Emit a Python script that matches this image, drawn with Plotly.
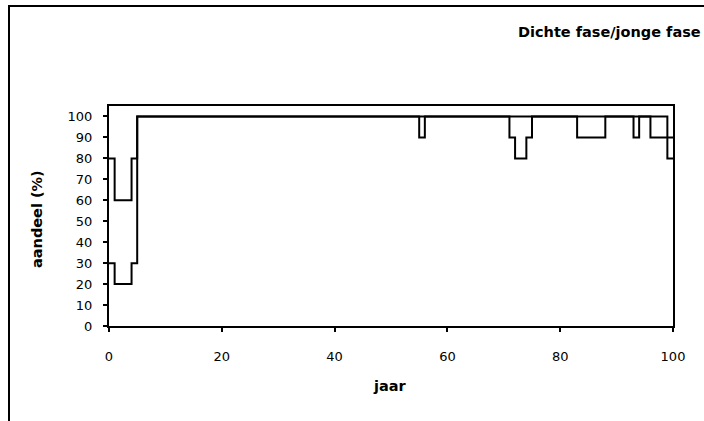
import plotly.graph_objects as go

# Data: step breakpoints (year, share %)
years_a = [0, 1, 4, 5, 55, 56, 71, 72, 74, 75, 83, 88, 93, 94, 96, 100]
share_a = [30, 20, 30, 100, 90, 100, 90, 80, 90, 100, 90, 100, 90, 100, 90, 90]
years_b = [0, 1, 4, 5, 99, 100]
share_b = [80, 60, 80, 100, 80, 80]

x_ticks = [0, 20, 40, 60, 80, 100]
y_ticks = [0, 10, 20, 30, 40, 50, 60, 70, 80, 90, 100]

title_text = "Dichte fase/jonge fase"
x_title = "jaar"
y_title = "aandeel (%)"

W, H = 704, 421
L, R, T, B = 109, 31, 106, 95
pw, ph = W - L - R, H - T - B

font = "DejaVu Sans, Liberation Sans, Arial, sans-serif"

fig = go.Figure()
for xs, ys in [(years_a, share_a), (years_b, share_b)]:
    fig.add_trace(go.Scatter(x=xs, y=ys, mode="lines", line=dict(shape="hv", color="black", width=2),
                             showlegend=False, hoverinfo="skip"))

axis_common = dict(showgrid=False, zeroline=False, showline=True, linecolor="black", linewidth=2,
                   mirror=True, ticks="outside", tickcolor="black", tickwidth=2, ticklen=4,
                   tickfont=dict(family=font, size=13, color="black"))

fig.update_xaxes(range=[0, 100], tickvals=x_ticks, ticklabelstandoff=13, **axis_common)
fig.update_yaxes(range=[0, 105], tickvals=y_ticks, ticklabelstandoff=8, **axis_common)

def px_x(p):
    return (p - L) / pw

def px_y(p):
    return (H - B - p) / ph

annotations = [
    dict(text=f"<b>{title_text}</b>", x=px_x(703), y=px_y(32), xref="paper", yref="paper",
         xanchor="right", yanchor="middle", showarrow=False,
         font=dict(family=font, size=14.5, color="black")),
    dict(text=f"<b>{x_title}</b>", x=px_x(390), y=px_y(386), xref="paper", yref="paper",
         xanchor="center", yanchor="middle", showarrow=False,
         font=dict(family=font, size=14.5, color="black")),
    dict(text=f"<b>{y_title}</b>", x=px_x(37), y=px_y(219), xref="paper", yref="paper",
         xanchor="center", yanchor="middle", showarrow=False, textangle=-90,
         font=dict(family=font, size=14.5, color="black")),
]

shapes = [
    dict(type="rect", xref="paper", yref="paper", x0=px_x(9), x1=px_x(760), y0=px_y(480), y1=px_y(6),
         line=dict(color="black", width=2), fillcolor="rgba(0,0,0,0)", layer="below"),
]

fig.update_layout(width=W, height=H, margin=dict(l=L, r=R, t=T, b=B, autoexpand=False),
                  paper_bgcolor="white", plot_bgcolor="white",
                  annotations=annotations, shapes=shapes)

fig.write_html("out.html", config={"displayModeBar": False},
               post_script="document.body.style.margin='0';document.body.style.overflow='hidden';")
